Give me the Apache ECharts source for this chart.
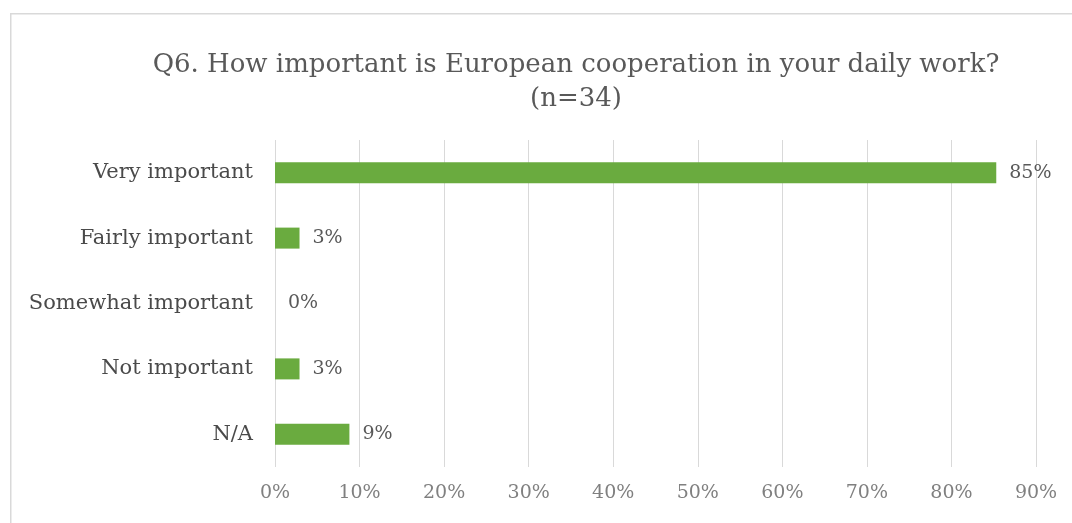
<!DOCTYPE html>
<html><head><meta charset="utf-8">
<script src="https://cdn.jsdelivr.net/npm/echarts@6/dist/echarts.min.js"></script>
<style>html,body{margin:0;padding:0;background:#fff}#c{width:1072px;height:523px}</style>
</head><body><div id="c"></div>
<script>
var titleText = 'Q6. How important is European cooperation in your daily work?\n(n=34)';
var categories = ['Very important', 'Fairly important', 'Somewhat important', 'Not important', 'N/A'];
var values = [85.3, 2.9, 0, 2.9, 8.8];
var axisMax = 90;
var axisStep = 10;

var chart = echarts.init(document.getElementById('c'), null, {renderer: 'canvas'});
var serif = '"DejaVu Serif", "Liberation Serif", serif';
chart.setOption({
  animation: false,
  backgroundColor: '#fff',
  graphic: [{
    type: 'rect', left: 10, top: 13, silent: true,
    shape: {width: 1100, height: 560},
    style: {fill: '#fff', stroke: '#d9d9d9', lineWidth: 1.5},
    z: -10
  }],
  title: {
    text: titleText,
    left: 571, top: 43, textAlign: 'center',
    textStyle: {fontFamily: serif, fontSize: 26, fontWeight: 'normal', color: '#595959', lineHeight: 34}
  },
  grid: {left: 275, right: 36, top: 140, bottom: 56, containLabel: false},
  xAxis: {
    type: 'value', min: 0, max: axisMax, interval: axisStep,
    axisLine: {show: false}, axisTick: {show: false},
    splitLine: {lineStyle: {color: '#d9d9d9', width: 1}},
    axisLabel: {formatter: '{value}%', fontFamily: serif, fontSize: 19, color: '#808080', margin: 17}
  },
  yAxis: {
    type: 'category', data: categories, inverse: true,
    axisLine: {show: false}, axisTick: {show: false},
    axisLabel: {fontFamily: serif, fontSize: 21, color: '#4a4a4a', margin: 22}
  },
  series: [{
    type: 'bar', data: values, barWidth: 21,
    itemStyle: {color: '#6aab3f'},
    label: {
      show: true, position: 'right', distance: 13,
      fontFamily: serif, fontSize: 19, color: '#595959',
      formatter: function (p) { return Math.round(p.value) + '%'; }
    }
  }]
});
</script></body></html>
